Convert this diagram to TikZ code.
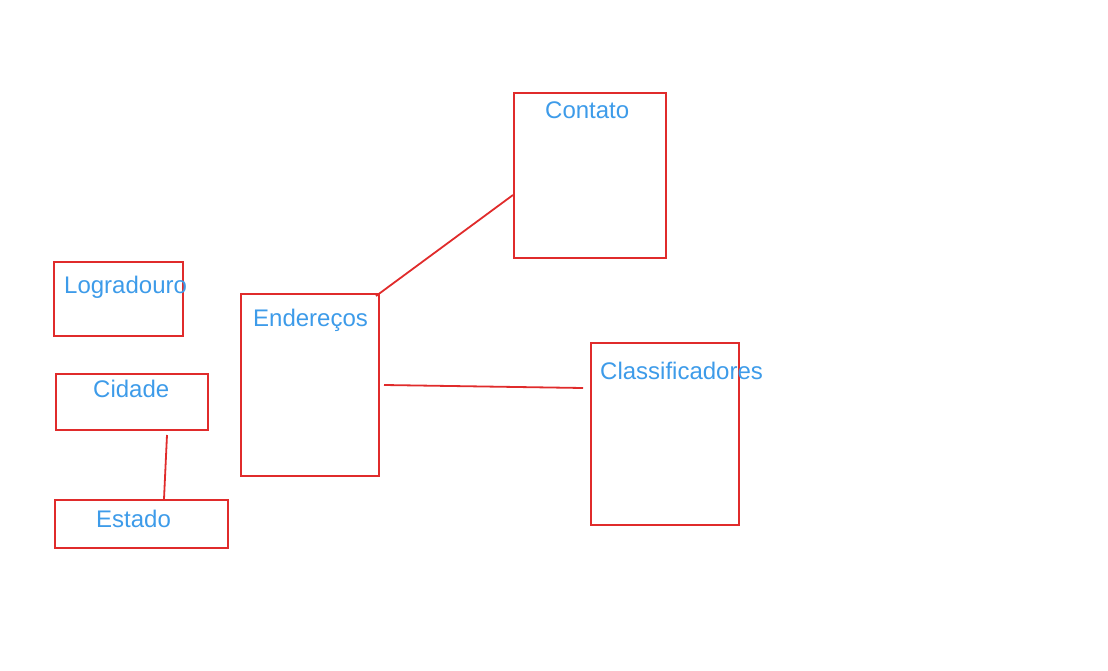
\documentclass[tikz,border=0pt]{standalone}
\usepackage{fontspec}
\setmainfont{Liberation Sans}
\definecolor{boxred}{HTML}{E02B2B}
\definecolor{txtblue}{HTML}{3D9BE9}
\tikzset{
  box/.style={draw=boxred, line width=2pt, rectangle, inner sep=0pt},
  lbl/.style={text=txtblue, inner sep=0pt, anchor=base west, font=\fontsize{24}{27}\selectfont},
  conn/.style={draw=boxred, line width=1.8pt}
}
\begin{document}
\begin{tikzpicture}[x=1pt,y=-1pt]
\useasboundingbox (0,0) rectangle (1108,671);
% boxes
\node[box, minimum width=152pt, minimum height=165pt] (contato) at (590,175.5) {};
\node[box, minimum width=129pt, minimum height=74pt] (logradouro) at (118.5,299) {};
\node[box, minimum width=152pt, minimum height=56pt] (cidade) at (132,402) {};
\node[box, minimum width=173pt, minimum height=48pt] (estado) at (141.5,524) {};
\node[box, minimum width=138pt, minimum height=182pt] (enderecos) at (310,385) {};
\node[box, minimum width=148pt, minimum height=182pt] (classif) at (665,434) {};
% labels
\node[lbl] (tcontato) at (545,119) {Contato};
\node[lbl] (tlogradouro) at (64,293) {Logradouro};
\node[lbl] (tcidade) at (93,397) {Cidade};
\node[lbl] (testado) at (96,527) {Estado};
\node[lbl] (tenderecos) at (253,326) {Endereços};
\node[lbl] (tclassif) at (600,379) {Classificadores};
% connectors
\draw[conn] ([yshift=-19.5pt]contato.west) -- ([xshift=-4pt,yshift=-3pt]enderecos.north east);
\draw[conn] ([xshift=4pt]enderecos.east) -- ([xshift=-7pt,yshift=46pt]classif.west);
\draw[conn] ([xshift=35pt,yshift=-4pt]cidade.south) -- ([xshift=22.5pt]estado.north);
\end{tikzpicture}
\end{document}
